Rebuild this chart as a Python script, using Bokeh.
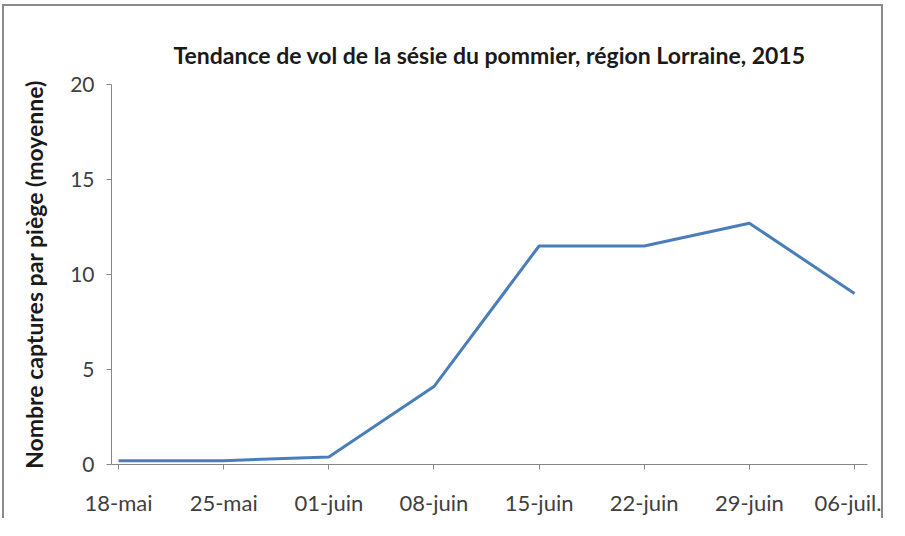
from bokeh.plotting import figure
from bokeh.models import FixedTicker, Range1d
from bokeh.embed import file_html
from bokeh.resources import INLINE

dates = ["18-mai", "25-mai", "01-juin", "08-juin", "15-juin", "22-juin", "29-juin", "06-juil."]
captures = [0.2, 0.2, 0.4, 4.1, 11.5, 11.5, 12.7, 9.0]
y_ticks = [0, 5, 10, 15, 20]
title_text = "Tendance de vol de la sésie du pommier, région Lorraine, 2015"
y_title = "Nombre captures par piège (moyenne)"

W, H = 881, 514
xs = list(range(len(dates)))

p = figure(width=W, height=H, output_backend="svg", toolbar_location=None,
           x_range=Range1d(-0.067, len(dates) - 1 + 0.124), y_range=Range1d(0, 20),
           min_border_left=107, min_border_right=18, min_border_top=78, min_border_bottom=56)
p.styles = {"border-left": "2px solid #8a8a8a", "border-top": "2px solid #8a8a8a",
            "border-right": "2px solid #8a8a8a", "margin-left": "2px", "margin-top": "4px"}
p.outline_line_color = None
p.grid.grid_line_color = None
p.background_fill_color = "white"
p.border_fill_color = "white"

p.line(xs, captures, line_color="#4A7EBB", line_width=3)

for ax in (p.xaxis[0], p.yaxis[0]):
    ax.axis_line_color = "#868686"
    ax.major_tick_line_color = "#868686"
    ax.minor_tick_line_color = None
    ax.major_tick_in = 0
    ax.major_tick_out = 5
    ax.major_label_text_font = "Lato"
    ax.major_label_text_color = "#404040"

p.xaxis.major_label_text_font_size = "22px"
p.yaxis.major_label_text_font_size = "21px"
p.xaxis.ticker = FixedTicker(ticks=xs)
p.xaxis.major_label_overrides = {i: d for i, d in enumerate(dates)}
p.xaxis.major_label_standoff = 19
p.yaxis.ticker = FixedTicker(ticks=y_ticks)
p.yaxis.major_label_standoff = 12

p.yaxis.axis_label = y_title
p.yaxis.axis_label_text_font = "Lato"
p.yaxis.axis_label_text_font_style = "bold"
p.yaxis.axis_label_text_font_size = "23px"
p.yaxis.axis_label_text_color = "#1a1a1a"
p.yaxis.axis_label_standoff = 19

p.title.text = title_text
p.title.align = "center"
p.title.text_font = "Lato"
p.title.text_font_style = "bold"
p.title.text_font_size = "23px"
p.title.text_color = "#1a1a1a"
p.title.offset = -8
p.title.standoff = 32

open("out.html", "w").write(file_html(p, INLINE))
